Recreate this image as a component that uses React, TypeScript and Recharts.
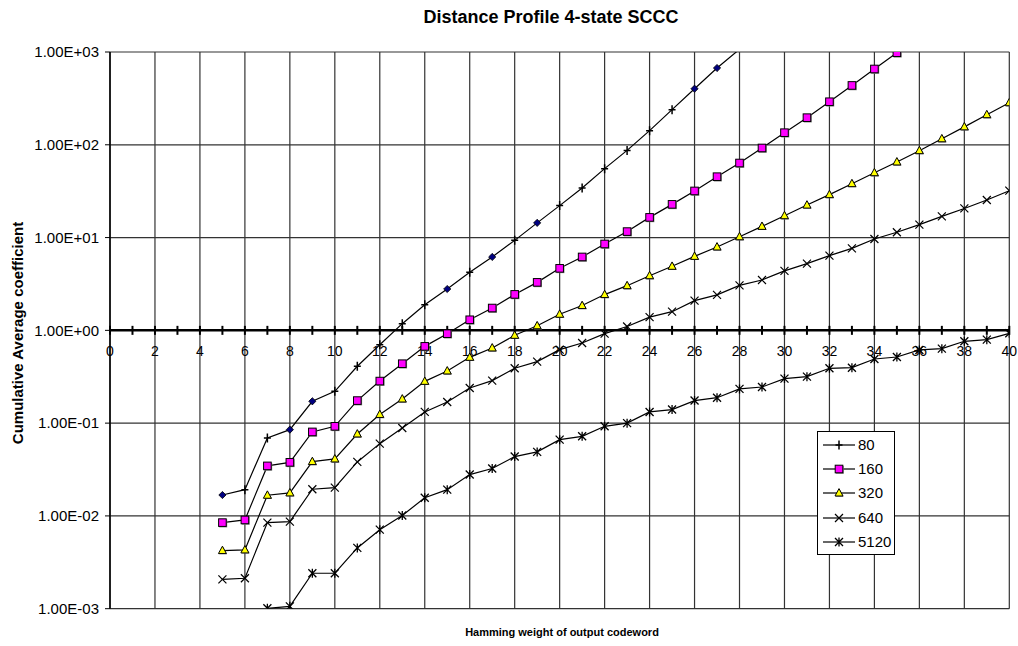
import React from 'react';
import {
  LineChart,
  Line,
  XAxis,
  YAxis,
  CartesianGrid,
  ReferenceLine,
  ReferenceDot,
  Legend,
} from 'recharts';

const FONT = '"Liberation Sans", Arial, Helvetica, sans-serif';

// Hamming weights of the output codeword
const weights = [
  5, 6, 7, 8, 9, 10, 11, 12, 13, 14, 15, 16, 17, 18, 19, 20, 21, 22, 23, 24,
  25, 26, 27, 28, 29, 30, 31, 32, 33, 34, 35, 36, 37, 38, 39, 40,
];

// Axis tick positions on the weight axis
const majorWeights = [0, 2, 4, 6, 8, 10, 12, 14, 16, 18, 20, 22, 24, 26, 28, 30, 32, 34, 36, 38, 40];
const minorWeights = [1, 3, 5, 7, 9, 11, 13, 15, 17, 19, 21, 23, 25, 27, 29, 31, 33, 35, 37, 39];
const yTicks = [0.001, 0.01, 0.1, 1, 10, 100, 1000];

// Cumulative average coefficients per interleaver size (first weight given separately)
const start80 = 5;
const values80 = [
  0.0168, 0.0192, 0.0692, 0.0851, 0.172, 0.22, 0.41, 0.7, 1.18, 1.89, 2.79, 4.22,
  6.18, 9.33, 14.4, 22.1, 34.2, 55.3, 87, 142, 239, 402, 672, 1070,
];
// weights of the 80 curve drawn with a filled diamond instead of a bar
const diamondWeights80 = [5, 8, 9, 15, 17, 19, 26, 27];

const start160 = 5;
const values160 = [
  0.00847, 0.00905, 0.0346, 0.0378, 0.0804, 0.0924, 0.175, 0.284, 0.437, 0.672,
  0.921, 1.3, 1.74, 2.44, 3.29, 4.66, 6.18, 8.53, 11.6, 16.5, 22.8, 31.8, 45.3,
  63.6, 92.4, 135, 196, 291, 436, 656, 982, 1450,
];

const start320 = 5;
const values320 = [
  0.00423, 0.0043, 0.0167, 0.0177, 0.0385, 0.0411, 0.0764, 0.124, 0.182, 0.282,
  0.365, 0.512, 0.646, 0.884, 1.12, 1.49, 1.85, 2.43, 3.03, 3.88, 4.9, 6.27, 7.92,
  10.2, 13.2, 17.2, 22.4, 29.0, 38.1, 50.0, 65.3, 86.4, 116, 156, 211, 284,
];

const start640 = 5;
const values640 = [
  0.00207, 0.00213, 0.00847, 0.00869, 0.0194, 0.0202, 0.0382, 0.0601, 0.0887,
  0.132, 0.169, 0.239, 0.287, 0.39, 0.46, 0.619, 0.731, 0.921, 1.1, 1.39, 1.59,
  2.09, 2.41, 3.05, 3.49, 4.37, 5.24, 6.38, 7.65, 9.66, 11.4, 13.8, 16.9, 20.6,
  25.4, 32.0,
];

const start5120 = 7;
const values5120 = [
  0.00101, 0.00106, 0.00241, 0.00241, 0.00452, 0.00711, 0.0101, 0.0157, 0.0192,
  0.0279, 0.0324, 0.0436, 0.049, 0.0664, 0.0721, 0.0924, 0.1, 0.132, 0.14, 0.175,
  0.188, 0.234, 0.245, 0.302, 0.317, 0.39, 0.396, 0.491, 0.516, 0.615, 0.635,
  0.762, 0.794, 0.929,
];

type MarkerKind = 'plus' | 'diamond' | 'square' | 'triangle' | 'cross' | 'star';

const series: { key: string; name: string; start: number; values: number[]; marker: MarkerKind }[] = [
  { key: 's80', name: '80', start: start80, values: values80, marker: 'plus' },
  { key: 's160', name: '160', start: start160, values: values160, marker: 'square' },
  { key: 's320', name: '320', start: start320, values: values320, marker: 'triangle' },
  { key: 's640', name: '640', start: start640, values: values640, marker: 'cross' },
  { key: 's5120', name: '5120', start: start5120, values: values5120, marker: 'star' },
];

const rows = weights.map((w) => {
  const row: Record<string, number | null> = { w };
  series.forEach((s) => {
    const i = w - s.start;
    row[s.key] = i >= 0 && i < s.values.length ? s.values[i] : null;
  });
  return row;
});

const formatSci = (v: number) => {
  const [m, e] = v.toExponential(2).split('e');
  const n = parseInt(e, 10);
  return `${m}E${n < 0 ? '-' : '+'}${String(Math.abs(n)).padStart(2, '0')}`;
};

function Marker({ kind, cx, cy }: { kind: MarkerKind; cx: number; cy: number }) {
  switch (kind) {
    case 'plus':
      return (
        <path
          d={`M${cx - 3.5},${cy}H${cx + 3.5}M${cx},${cy - 4.5}V${cy + 4.5}`}
          stroke="#000"
          strokeWidth={1.5}
          fill="none"
        />
      );
    case 'diamond':
      return (
        <path
          d={`M${cx},${cy - 3.6}L${cx + 3.6},${cy}L${cx},${cy + 3.6}L${cx - 3.6},${cy}Z`}
          fill="#000080"
          stroke="#000"
          strokeWidth={0.8}
        />
      );
    case 'square':
      return (
        <g>
          <rect x={cx - 3.2} y={cy - 3.2} width={8} height={8} fill="#808080" />
          <rect x={cx - 3.8} y={cy - 3.8} width={7.6} height={7.6} fill="#FF00FF" stroke="#000" strokeWidth={1} />
        </g>
      );
    case 'triangle':
      return (
        <g>
          <path
            d={`M${cx + 0.7},${cy - 3.8}L${cx + 4.7},${cy + 3.7}L${cx - 3.3},${cy + 3.7}Z`}
            fill="#808080"
          />
          <path
            d={`M${cx},${cy - 4.4}L${cx + 4},${cy + 3}L${cx - 4},${cy + 3}Z`}
            fill="#FFFF00"
            stroke="#000"
            strokeWidth={1}
          />
        </g>
      );
    case 'cross':
      return (
        <path
          d={`M${cx - 4},${cy - 4}L${cx + 4},${cy + 4}M${cx - 4},${cy + 4}L${cx + 4},${cy - 4}`}
          stroke="#000"
          strokeWidth={1.2}
          fill="none"
        />
      );
    case 'star':
      return (
        <path
          d={`M${cx - 4},${cy - 4}L${cx + 4},${cy + 4}M${cx - 4},${cy + 4}L${cx + 4},${cy - 4}M${cx},${cy - 4.5}V${cy + 4.5}`}
          stroke="#000"
          strokeWidth={1.3}
          fill="none"
        />
      );
    default:
      return null;
  }
}

const makeDot = (kind: MarkerKind, pickKind?: (w: number) => MarkerKind) => (p: any) => {
  const key = `${p.dataKey}-${p.index}`;
  if (p.value == null || p.cx == null || p.cy == null || p.value > 1000 || p.value < 0.001) {
    return <g key={key} />;
  }
  const k = pickKind ? pickKind(p.payload.w) : kind;
  return (
    <g key={key}>
      <Marker kind={k} cx={p.cx} cy={p.cy} />
    </g>
  );
};

const dot80 = makeDot('plus', (w) => (diamondWeights80.includes(w) ? 'diamond' : 'plus'));

function LegendBox() {
  return (
    <div
      style={{
        width: 76,
        height: 121,
        paddingTop: 1,
        border: '1px solid #000',
        background: '#fff',
        fontFamily: FONT,
        fontSize: 15,
        color: '#000',
      }}
    >
      {series.map((s) => (
        <div key={s.key} style={{ height: 24.2, display: 'flex', alignItems: 'center' }}>
          <svg width={40} height={24} style={{ display: 'block' }}>
            <line x1={5} x2={37} y1={12} y2={12} stroke="#000" strokeWidth={1.2} />
            <Marker kind={s.marker} cx={21} cy={12} />
          </svg>
          <span style={{ lineHeight: '24px' }}>{s.name}</span>
        </div>
      ))}
    </div>
  );
}

function WeightTick(props: any) {
  const { cx, cy, weight } = props;
  const labelled = majorWeights.includes(weight);
  return (
    <g>
      <line x1={cx} x2={cx} y1={cy - 4.5} y2={cy + 4.5} stroke="#000" strokeWidth={2} />
      {labelled && (
        <text x={cx} y={cy + 26} textAnchor="middle" fontSize={14} fontFamily={FONT} fill="#000">
          {String(weight)}
        </text>
      )}
    </g>
  );
}

const allTickWeights = [...majorWeights, ...minorWeights];

export default function App() {
  return (
    <div
      style={{
        position: 'absolute',
        left: 0,
        top: 0,
        width: 1018,
        height: 646,
        background: '#fff',
        fontFamily: FONT,
      }}
    >
      <LineChart
        width={1018}
        height={646}
        data={rows}
        margin={{ top: 52, right: 8.7, bottom: 7.3, left: 10 }}
      >
        <CartesianGrid stroke="#333" strokeWidth={1.2} />
        <XAxis
          dataKey="w"
          type="number"
          domain={[0, 40]}
          ticks={majorWeights}
          tick={() => <g />}
          tickLine={false}
          axisLine={false}
          height={30}
          allowDataOverflow
        />
        <YAxis
          type="number"
          scale="log"
          domain={[0.001, 1000]}
          ticks={yTicks}
          allowDataOverflow
          width={100}
          tickSize={5}
          tickMargin={6}
          tickFormatter={formatSci}
          axisLine={{ stroke: '#000', strokeWidth: 1.5 }}
          tickLine={{ stroke: '#000', strokeWidth: 1 }}
          tick={{ fill: '#000', fontSize: 15, fontFamily: FONT }}
        />
        <ReferenceLine y={1} stroke="#000" strokeWidth={2.5} />
        {allTickWeights.map((w) => (
          <ReferenceDot
            key={`t${w}`}
            x={w}
            y={1}
            r={0}
            ifOverflow="visible"
            shape={(p: any) => <WeightTick {...p} weight={w} />}
          />
        ))}
        <Line
          dataKey="s80"
          name="80"
          stroke="#000"
          strokeWidth={1.2}
          dot={dot80}
          activeDot={false}
          isAnimationActive={false}
        />
        <Line
          dataKey="s160"
          name="160"
          stroke="#000"
          strokeWidth={1.2}
          dot={makeDot('square')}
          activeDot={false}
          isAnimationActive={false}
        />
        <Line
          dataKey="s320"
          name="320"
          stroke="#000"
          strokeWidth={1.2}
          dot={makeDot('triangle')}
          activeDot={false}
          isAnimationActive={false}
        />
        <Line
          dataKey="s640"
          name="640"
          stroke="#000"
          strokeWidth={1.2}
          dot={makeDot('cross')}
          activeDot={false}
          isAnimationActive={false}
        />
        <Line
          dataKey="s5120"
          name="5120"
          stroke="#000"
          strokeWidth={1.2}
          dot={makeDot('star')}
          activeDot={false}
          isAnimationActive={false}
        />
        <Legend
          layout="horizontal"
          verticalAlign="middle"
          align="center"
          wrapperStyle={{ left: 817, top: 431, width: 78, height: 123 }}
          content={() => <LegendBox />}
        />
      </LineChart>
      <div
        style={{
          position: 'absolute',
          left: 551,
          top: 7,
          transform: 'translateX(-50%)',
          fontSize: 18,
          lineHeight: '20px',
          fontWeight: 'bold',
          whiteSpace: 'nowrap',
          color: '#000',
        }}
      >
        Distance Profile 4-state SCCC
      </div>
      <div
        style={{
          position: 'absolute',
          left: 17.5,
          top: 333,
          transform: 'translate(-50%, -50%) rotate(-90deg)',
          fontSize: 15,
          lineHeight: '18px',
          fontWeight: 'bold',
          whiteSpace: 'nowrap',
          color: '#000',
        }}
      >
        Cumulative Average coefficient
      </div>
      <div
        style={{
          position: 'absolute',
          left: 562,
          top: 632,
          transform: 'translate(-50%, -50%)',
          fontSize: 11,
          lineHeight: '14px',
          fontWeight: 'bold',
          whiteSpace: 'nowrap',
          color: '#000',
        }}
      >
        Hamming weight of output codeword
      </div>
    </div>
  );
}
